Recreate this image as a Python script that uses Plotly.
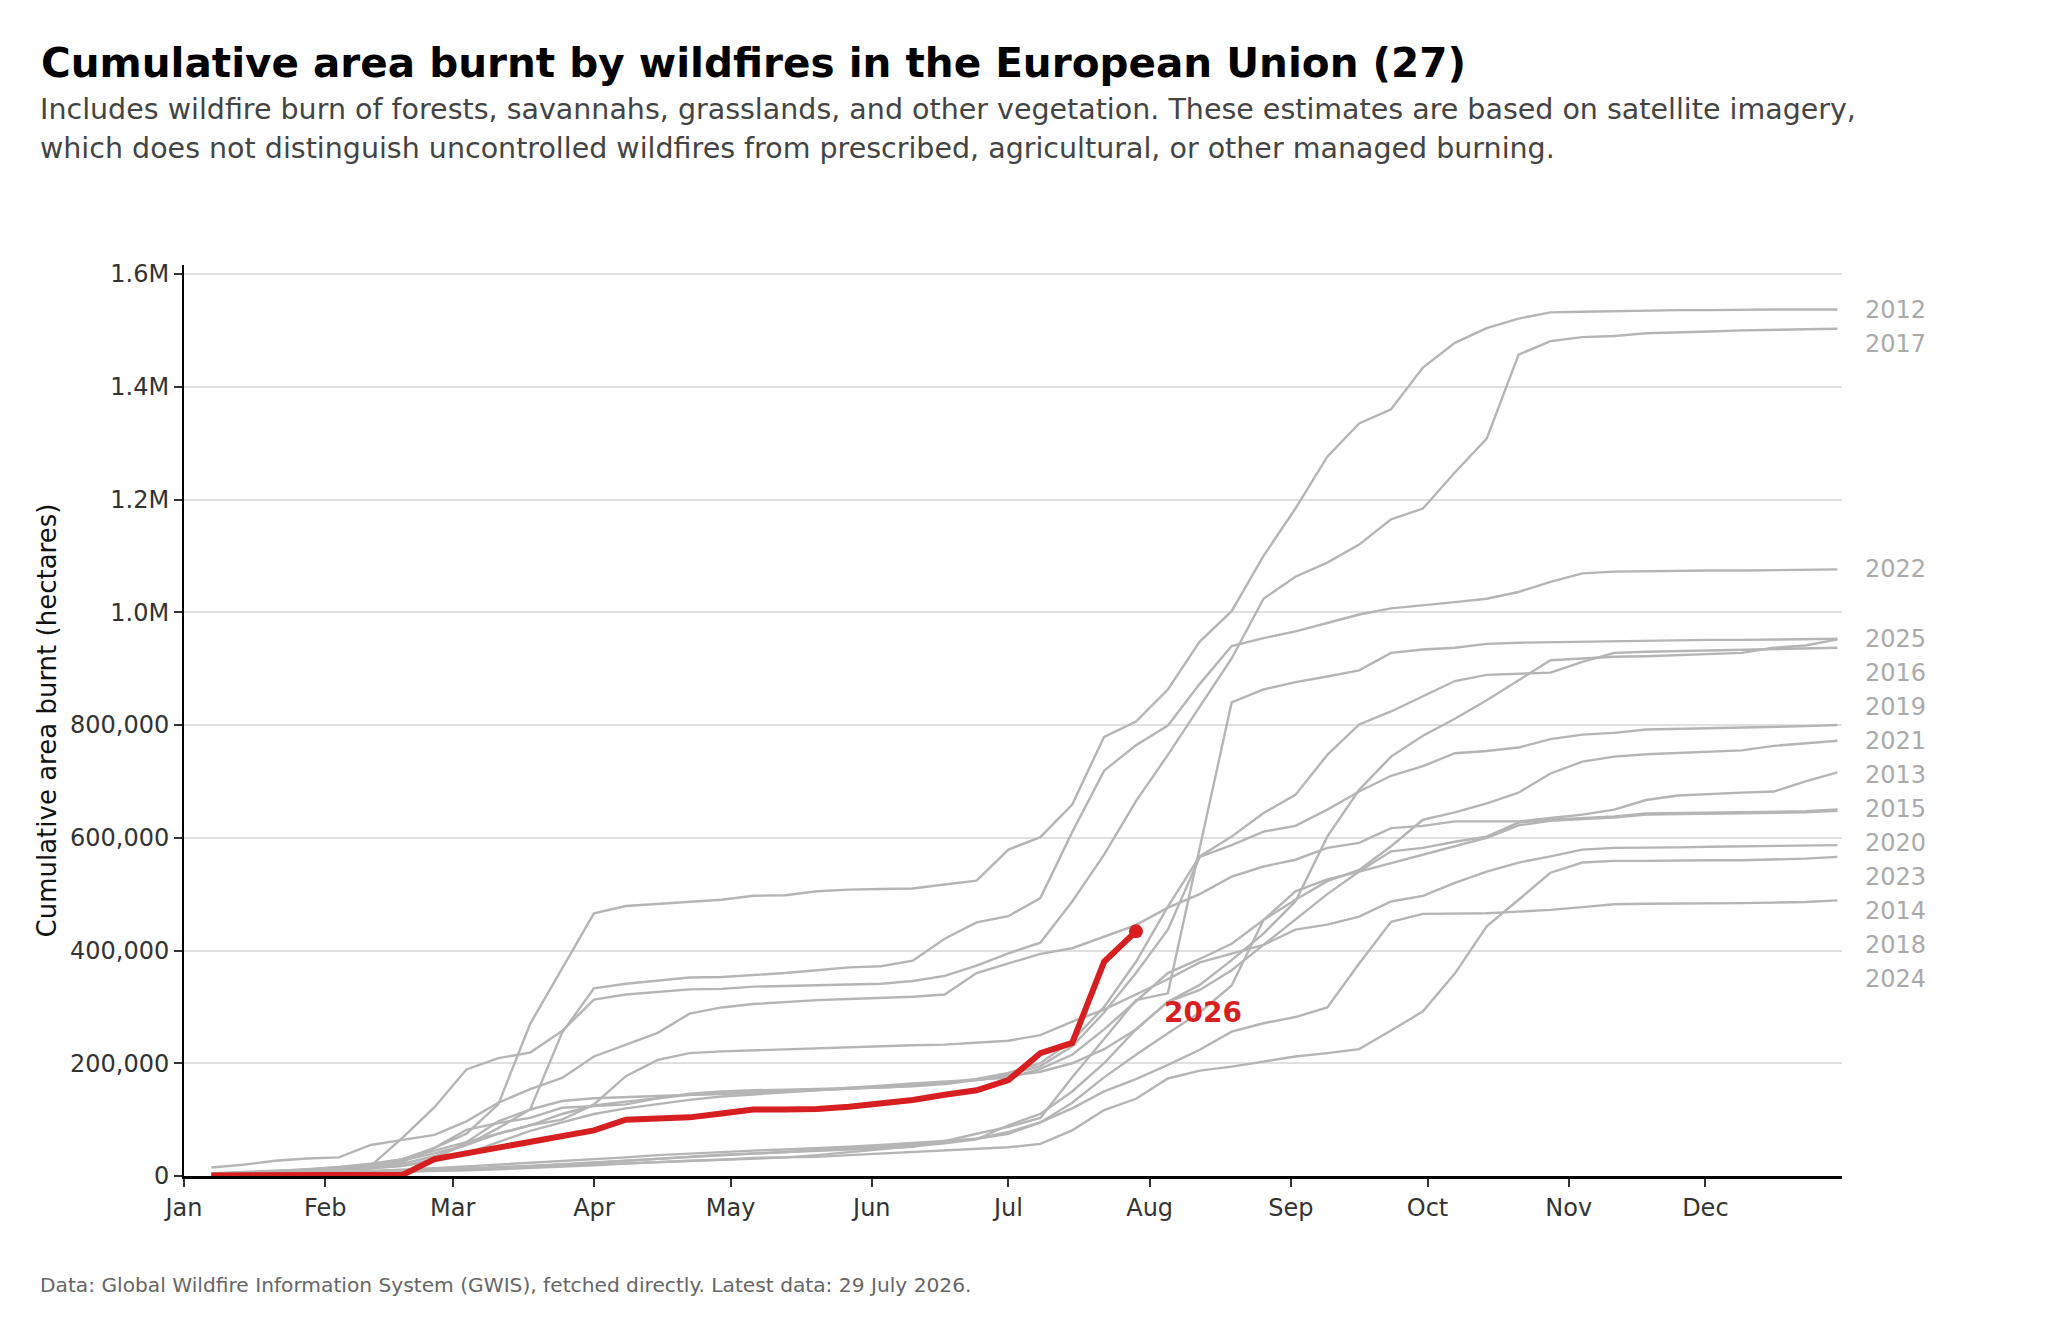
import pandas as pd
import plotly.graph_objects as go

# weekly cumulative burnt area (thousand hectares), week ending Jan 7 ... Dec 30
weeks = pd.date_range("2026-01-07", periods=52, freq="7D")

years = [2012, 2013, 2014, 2015, 2016, 2017, 2018, 2019, 2020, 2021, 2022, 2023, 2024, 2025]

y2012 = [2, 4, 6, 8, 12, 18, 30, 50, 75, 127, 270, 369, 466, 479, 483, 486, 490, 497, 498, 505,
         508, 509, 510, 517, 524, 579, 601, 659, 779, 806, 863, 948, 1002, 1100, 1184, 1276, 1335, 1360, 1434, 1478,
         1504, 1521, 1532, 1533, 1534, 1536, 1536, 1536, 1537, 1537, 1537, 1537]
y2013 = [2, 4, 6, 8, 10, 13, 18, 30, 60, 97, 118, 133, 138, 140, 141, 143, 145, 147, 150, 153,
         156, 160, 164, 168, 171, 174, 190, 215, 260, 310, 360, 385, 412, 454, 490, 523, 543, 585, 632, 645,
         661, 680, 714, 735, 744, 748, 750, 752, 755, 763, 768, 772]
y2014 = [3, 5, 8, 11, 15, 20, 28, 40, 55, 75, 90, 100, 127, 177, 206, 218, 221, 223, 225, 227,
         229, 230, 232, 233, 236, 240, 250, 274, 295, 322, 349, 379, 395, 410, 437, 446, 460, 487, 497, 520,
         540, 556, 567, 579, 582, 582, 583, 584, 585, 585, 586, 587]
y2015 = [15, 20, 27, 31, 33, 55, 64, 73, 97, 130, 154, 174, 212, 233, 254, 288, 299, 305, 309, 312,
         314, 316, 318, 322, 360, 377, 394, 404, 425, 445, 476, 500, 531, 549, 561, 582, 591, 617, 621, 629,
         629, 629, 635, 641, 650, 667, 675, 678, 680, 682, 700, 716]
y2016 = [1, 2, 3, 4, 5, 6, 8, 10, 12, 14, 16, 18, 20, 22, 24, 26, 28, 30, 33, 37,
         42, 47, 52, 58, 65, 90, 110, 150, 200, 260, 309, 339, 383, 430, 487, 602, 685, 744, 781, 811,
         844, 879, 915, 918, 921, 922, 924, 926, 928, 937, 941, 952]
y2017 = [5, 7, 9, 11, 14, 18, 68, 122, 189, 209, 219, 257, 313, 322, 326, 331, 332, 336, 337, 338,
         339, 341, 346, 355, 373, 395, 414, 487, 570, 665, 747, 833, 918, 1024, 1063, 1088, 1120, 1165, 1184, 1248,
         1308, 1457, 1481, 1488, 1490, 1495, 1496, 1498, 1500, 1501, 1502, 1503]
y2018 = [1, 2, 3, 4, 5, 6, 7, 8, 10, 12, 14, 17, 19, 22, 25, 27, 29, 32, 33, 34,
         37, 40, 42, 45, 48, 51, 57, 81, 117, 137, 173, 187, 194, 203, 212, 218, 225, 258, 292, 359,
         443, 490, 538, 556, 559, 559, 560, 560, 560, 561, 563, 566]
y2019 = [4, 6, 8, 12, 16, 22, 30, 45, 60, 75, 90, 110, 125, 132, 138, 146, 150, 152, 153, 154,
         155, 157, 160, 165, 172, 183, 200, 240, 300, 380, 478, 567, 602, 644, 676, 747, 801, 824, 851, 878,
         889, 891, 893, 912, 928, 930, 931, 932, 933, 934, 935, 937]
y2020 = [3, 5, 7, 9, 11, 14, 18, 26, 40, 60, 80, 95, 110, 120, 128, 135, 141, 145, 149, 152,
         155, 158, 162, 166, 170, 177, 185, 200, 225, 260, 309, 330, 365, 410, 455, 500, 540, 576, 582, 593,
         602, 627, 632, 635, 638, 643, 644, 645, 645, 646, 647, 650]
y2021 = [3, 5, 7, 9, 12, 15, 25, 50, 82, 94, 103, 121, 124, 127, 138, 144, 146, 148, 150, 152,
         154, 156, 159, 163, 170, 180, 195, 230, 290, 360, 437, 566, 587, 611, 621, 650, 682, 710, 727, 750,
         754, 760, 775, 783, 786, 792, 793, 794, 795, 796, 798, 800]
y2022 = [3, 5, 7, 9, 12, 16, 22, 35, 55, 85, 118, 254, 333, 341, 347, 352, 353, 356, 360, 365,
         370, 372, 382, 421, 450, 461, 493, 610, 719, 764, 799, 873, 940, 954, 966, 981, 996, 1007, 1012, 1018,
         1024, 1036, 1054, 1069, 1072, 1073, 1073, 1074, 1074, 1075, 1075, 1076]
y2023 = [1, 2, 3, 4, 5, 6, 8, 10, 12, 15, 18, 21, 24, 27, 30, 33, 36, 39, 42, 45,
         48, 52, 56, 60, 66, 75, 95, 130, 175, 215, 253, 290, 338, 454, 505, 526, 540, 555, 570, 585,
         600, 622, 630, 633, 636, 641, 642, 643, 643, 644, 645, 648]
y2024 = [2, 3, 4, 5, 7, 9, 11, 14, 17, 20, 23, 26, 29, 33, 37, 40, 43, 45, 47, 49,
         52, 55, 58, 62, 66, 78, 95, 120, 150, 172, 197, 224, 256, 271, 282, 299, 377, 451, 465, 466,
         466, 469, 472, 477, 482, 483, 483, 484, 484, 485, 486, 489]
y2025 = [2, 3, 4, 5, 6, 7, 9, 11, 13, 15, 17, 20, 23, 27, 31, 35, 38, 40, 42, 44,
         46, 49, 52, 62, 75, 87, 103, 175, 243, 312, 324, 582, 840, 863, 876, 886, 897, 928, 934, 937,
         944, 946, 947, 947, 949, 950, 950, 951, 951, 952, 952, 953]

past = [y2012, y2013, y2014, y2015, y2016, y2017, y2018, y2019, y2020, y2021, y2022, y2023, y2024, y2025]

# current year, up to the latest data (29 July)
y2026 = [1, 1, 1, 1, 1, 1, 2, 30, 40, 51, 60, 70, 81, 100, 102, 104, 111, 118, 118, 119,
         123, 128, 135, 144, 152, 170, 218, 236, 380, 434]

ytick_vals = [0, 200000, 400000, 600000, 800000, 1000000, 1200000, 1400000, 1600000]
ytick_text = ["0", "200,000", "400,000", "600,000", "800,000", "1.0M", "1.2M", "1.4M", "1.6M"]
month_ticks = pd.date_range("2026-01-01", periods=12, freq="MS")
month_labels = ["Jan", "Feb", "Mar", "Apr", "May", "Jun", "Jul", "Aug", "Sep", "Oct", "Nov", "Dec"]

# page has an 8px body margin, so the figure is drawn 8px in from the window edge
PAD = 8
W, H = 2048 - 2 * PAD, 1318 - 2 * PAD
L, R, T, B = 176, 198, 257, 134
PW, PH = W - L - R, H - T - B
FONT = "DejaVu Sans"
GREY = "#b5b5b5"
RED = "#d71f22"


def px_x(px):
    return (px - PAD - L) / PW


def px_y(py):
    return (H - B - (py - PAD)) / PH


fig = go.Figure()

for yr, vals in zip(years, past):
    fig.add_trace(go.Scatter(
        x=weeks, y=[v * 1000 for v in vals], mode="lines", name=str(yr),
        line=dict(color=GREY, width=2.4), hoverinfo="skip"))

cur = [v * 1000 for v in y2026]
fig.add_trace(go.Scatter(
    x=weeks[:len(cur)], y=cur, mode="lines", name="2026",
    line=dict(color=RED, width=6)))
fig.add_trace(go.Scatter(
    x=[weeks[len(cur) - 1]], y=[cur[-1]], mode="markers",
    marker=dict(color=RED, size=14), showlegend=False))

annotations = []

# year labels at the right, pushed apart so they don't overlap
gap = 60400
ends = sorted(((vals[-1] * 1000, yr) for yr, vals in zip(years, past)), reverse=True)
prev = None
for end, yr in ends:
    ly = end if prev is None else min(end, prev - gap)
    prev = ly
    annotations.append(dict(
        x=1, xref="paper", y=ly, yref="y", xanchor="left", yanchor="middle",
        xshift=21, text=str(yr), showarrow=False,
        font=dict(family=FONT, size=24, color="#aaaaaa")))

annotations.append(dict(
    x=weeks[len(cur) - 1], y=cur[-1], xref="x", yref="y",
    xanchor="left", yanchor="middle", xshift=26, yshift=-81,
    text="<b>2026</b>", showarrow=False,
    font=dict(family=FONT, size=28, color=RED)))

annotations.append(dict(
    x=px_x(38), y=px_y(110), xref="paper", yref="paper", xanchor="left", yanchor="middle",
    text="Includes wildfire burn of forests, savannahs, grasslands, and other vegetation. "
         "These estimates are based on satellite imagery,",
    showarrow=False, font=dict(family=FONT, size=28.5, color="#444444")))
annotations.append(dict(
    x=px_x(38), y=px_y(149), xref="paper", yref="paper", xanchor="left", yanchor="middle",
    text="which does not distinguish uncontrolled wildfires from prescribed, agricultural, "
         "or other managed burning.",
    showarrow=False, font=dict(family=FONT, size=28.5, color="#444444")))
annotations.append(dict(
    x=px_x(38), y=px_y(1285), xref="paper", yref="paper", xanchor="left", yanchor="middle",
    text="Data: Global Wildfire Information System (GWIS), fetched directly. Latest data: 29 July 2026.",
    showarrow=False, font=dict(family=FONT, size=20.2, color="#666666")))
annotations.append(dict(
    x=px_x(46), y=0.5, xref="paper", yref="paper", xanchor="center", yanchor="middle",
    text="Cumulative area burnt (hectares)", textangle=-90,
    showarrow=False, font=dict(family=FONT, size=26, color="#111111")))

fig.update_layout(
    width=W, height=H,
    margin=dict(l=L, r=R, t=T, b=B),
    paper_bgcolor="white", plot_bgcolor="white",
    showlegend=False,
    font=dict(family=FONT, size=24, color="#333333"),
    title=dict(
        text="<b>Cumulative area burnt by wildfires in the European Union (27)</b>",
        x=(41 - PAD) / W, xref="container", xanchor="left",
        y=1 - (63 - PAD) / H, yref="container", yanchor="middle",
        font=dict(family=FONT, size=40.5, color="black")),
    annotations=annotations,
)

fig.update_xaxes(
    range=["2026-01-01", "2026-12-31"],
    tickvals=month_ticks, ticktext=month_labels,
    showgrid=False, zeroline=False,
    showline=True, linecolor="black", linewidth=2.5,
    ticks="outside", ticklen=8, tickwidth=1.5, tickcolor="#333333",
    tickfont=dict(family=FONT, size=24, color="#333333"))

fig.update_yaxes(
    range=[0, 1616000],
    tickvals=ytick_vals, ticktext=ytick_text,
    showgrid=True, gridcolor="#e0e0e0", gridwidth=2,
    zeroline=False,
    showline=True, linecolor="black", linewidth=2,
    ticks="outside", ticklen=8, tickwidth=1.5, tickcolor="#333333",
    tickfont=dict(family=FONT, size=24, color="#333333"))

fig.write_html("out.html")
